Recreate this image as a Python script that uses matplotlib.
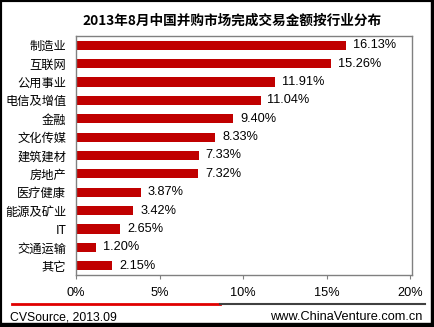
import matplotlib
matplotlib.use("Agg")
import matplotlib.pyplot as plt
from matplotlib.patches import Rectangle
from matplotlib.lines import Line2D

categories = ["制造业", "互联网", "公用事业", "电信及增值", "金融", "文化传媒", "建筑建材",
              "房地产", "医疗健康", "能源及矿业", "IT", "交通运输", "其它"]
values = [16.13, 15.26, 11.91, 11.04, 9.40, 8.33, 7.33, 7.32, 3.87, 3.42, 2.65, 1.20, 2.15]
xticks = [0, 5, 10, 15, 20]
xticklabels = ["0%", "5%", "10%", "15%", "20%"]
title = "2013年8月中国并购市场完成交易金额按行业分布"
source = "CVSource, 2013.09"
website = "www.ChinaVenture.com.cn"

plt.rcParams['font.family'] = ['Liberation Sans', 'Noto Sans CJK SC', 'DejaVu Sans']

W, H = 435, 327
fig = plt.figure(figsize=(W / 100, H / 100), dpi=100)
fig.patch.set_facecolor("white")

ax = fig.add_axes([76 / W, 1 - 275 / H, 336 / W, 239 / H])
y = list(range(len(categories)))
ax.barh(y, values, height=0.5, color="#C00000")
ax.set_xlim(0, 20.1)
ax.set_ylim(len(categories) - 0.5, -0.5)
ax.set_yticks(y)
ax.set_yticklabels(categories, fontsize=8.8, family=['Noto Sans CJK SC', 'DejaVu Sans'])
ax.set_xticks(xticks)
ax.set_xticklabels(xticklabels, fontsize=9.2)
ax.tick_params(axis='y', length=0, pad=7)
ax.tick_params(axis='x', length=3, color="#808080", pad=6)
for s in ax.spines.values():
    s.set_color("#808080")
    s.set_linewidth(1)

for yi, v in zip(y, values):
    ax.annotate(f"{v:.2f}%", (v, yi), xytext=(5, 0), textcoords="offset points",
                va="center", ha="left", fontsize=9.2)

fig.text(232 / W, 1 - 21 / H, title, ha="center", va="center", fontsize=9.8,
         fontweight="bold", family=['Noto Sans CJK SC', 'DejaVu Sans'])

# footer rule
fig.add_artist(Line2D([12 / W, 220 / W], [1 - 304 / H, 1 - 304 / H], color="#E00000", lw=2))
fig.add_artist(Line2D([220 / W, 425 / W], [1 - 304 / H, 1 - 304 / H], color="#404040", lw=1.5))
fig.text(10 / W, 1 - 317 / H, source, ha="left", va="center", fontsize=8.8)
fig.text(422 / W, 1 - 317 / H, website, ha="right", va="center", fontsize=9.2)

# outer frame
fig.add_artist(Rectangle((0, 0), 1, 1, transform=fig.transFigure, fill=False,
                         edgecolor="black", lw=3))
fig.add_artist(Rectangle((1 - 4 / W, 0), 4 / W, 1, transform=fig.transFigure,
                         color="black"))
fig.add_artist(Rectangle((0, 0), 1, 4 / H, transform=fig.transFigure, color="black"))

fig.savefig("out.png", dpi=100)
